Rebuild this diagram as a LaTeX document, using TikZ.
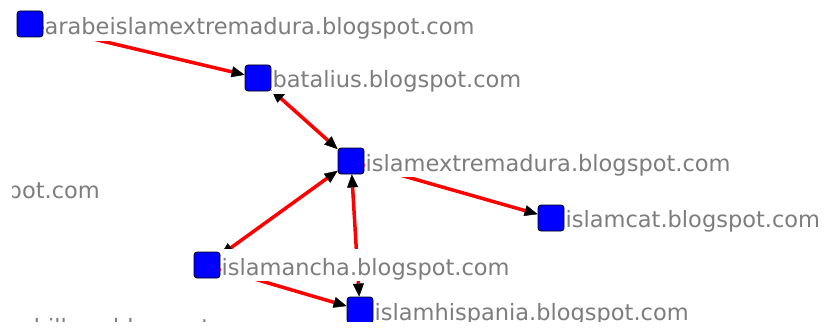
\documentclass[tikz,border=0pt]{standalone}
\usepackage{fontspec}
\setmainfont{DejaVu Sans}
\usetikzlibrary{arrows.meta}
\definecolor{sitegray}{RGB}{125,125,125}
\definecolor{siteblue}{RGB}{0,0,255}
\definecolor{linkred}{RGB}{255,0,0}
\begin{document}
\begin{tikzpicture}[x=1pt,y=-1pt,line join=round,
  >={Triangle[black,length=13pt,width=11pt,line width=0.4pt]}]
	\tikzset{site/.style={draw=black,line width=0.8pt,fill=siteblue,rounded corners=3pt,minimum size=26pt,inner sep=0pt},
		sitename/.style={anchor=base west,fill=white,text=sitegray,font=\fontsize{22.5}{27}\selectfont,text height=24pt,text depth=4pt,inner xsep=1pt,inner ysep=2pt},
		link/.style={draw=linkred,line width=3.5pt}}
	\useasboundingbox (0,0) rectangle (824,329);
	\clip (12,0) rectangle (824,321);
	% sites
	\node[site] (arabe) at (30,24) {};
	\node[site] (batalius) at (258,78) {};
	\node[site] (extremadura) at (351,161) {};
	\node[site] (islamcat) at (551,218) {};
	\node[site] (mancha) at (207,265) {};
	\node[site] (hispania) at (360,310) {};
	% links
	\draw[link,->] (arabe) -- (batalius);
	\draw[link,<->] (batalius) -- (extremadura);
	\draw[link,->] (extremadura) -- (islamcat);
	\draw[link,<->] (mancha) -- (extremadura);
	\draw[link,<->] (hispania) -- (extremadura);
	\draw[link,->] (mancha) -- (hispania);
	% names
	\node[sitename] (arabe-name) at ([yshift=-11pt]arabe.east) {arabeislamextremadura.blogspot.com};
	\node[sitename] (batalius-name) at ([yshift=-10pt]batalius.east) {batalius.blogspot.com};
	\node[sitename] (extremadura-name) at ([yshift=-10pt]extremadura.east) {islamextremadura.blogspot.com};
	\node[sitename] (islamcat-name) at ([yshift=-9pt]islamcat.east) {islamcat.blogspot.com};
	\node[sitename] (mancha-name) at ([yshift=-10pt]mancha.east) {islamancha.blogspot.com};
	\node[sitename] (hispania-name) at ([yshift=-10pt]hispania.east) {islamhispania.blogspot.com};
	% sites cut off by the frame
	\node[sitename,anchor=base east] (left-name) at (101,198) {blogspot.com};
	\node[sitename] (bottom-name) at (-3,335) {mobillazo.blogspot.com};
\end{tikzpicture}
\end{document}
